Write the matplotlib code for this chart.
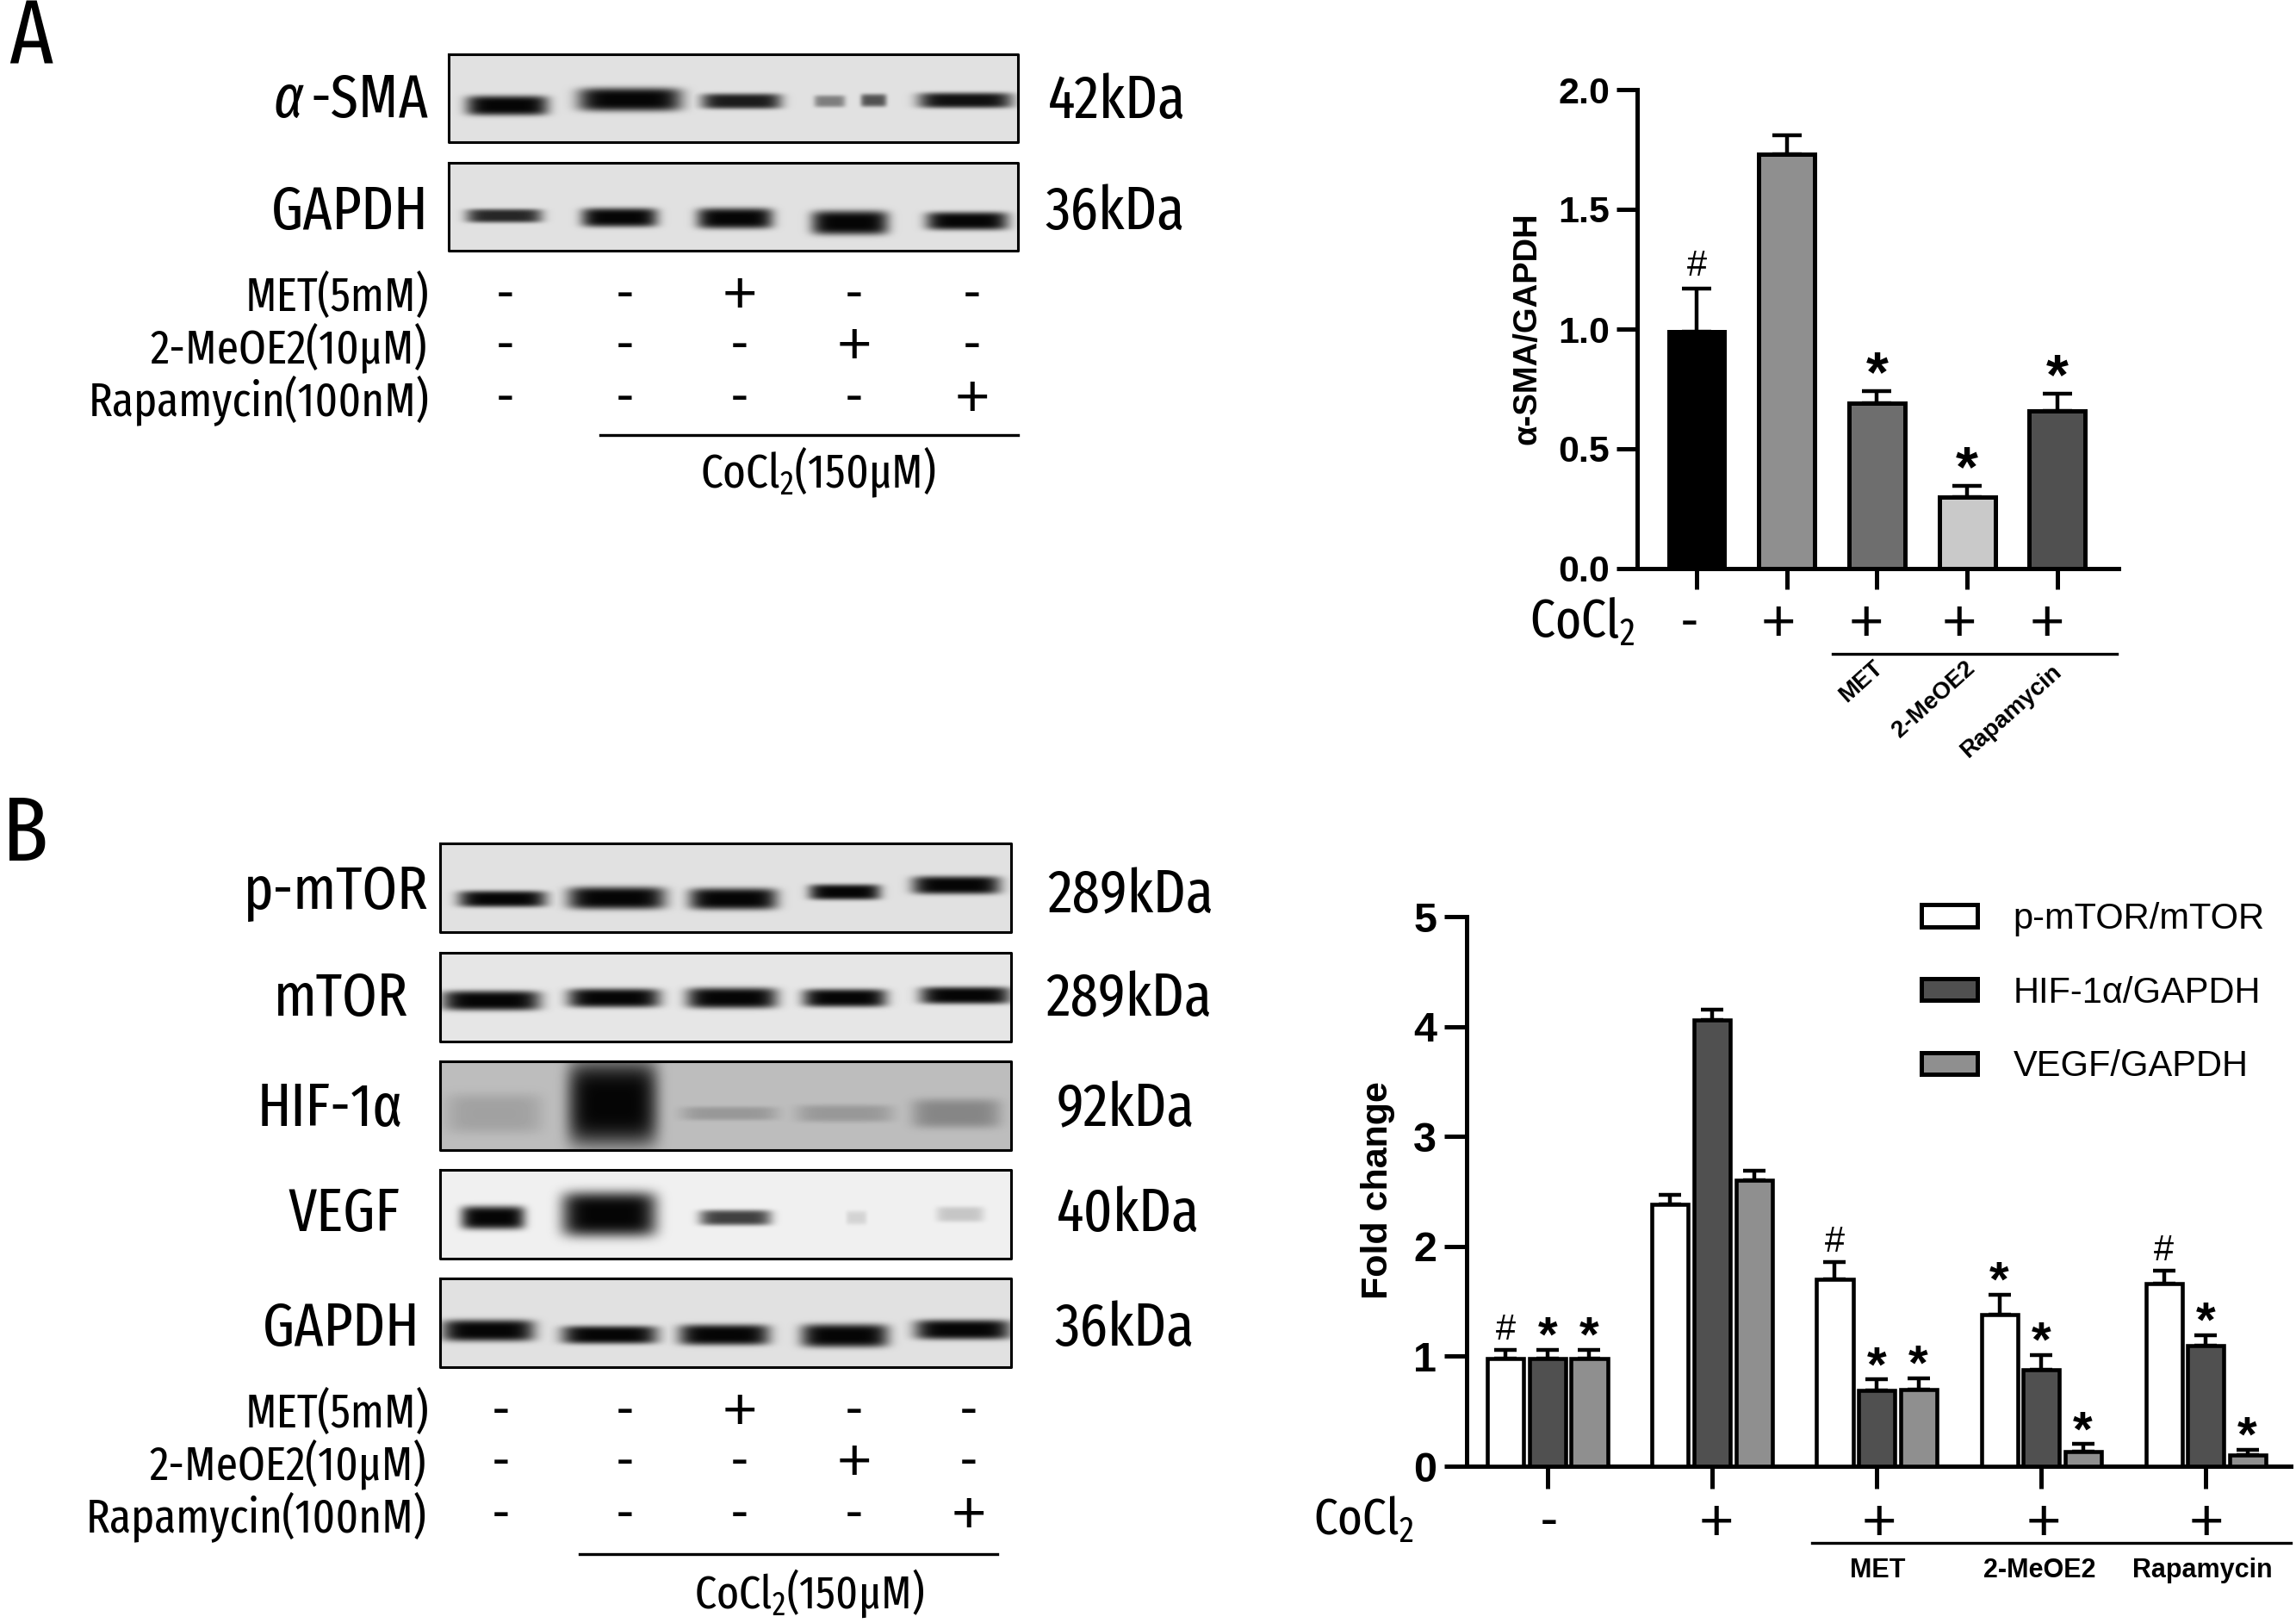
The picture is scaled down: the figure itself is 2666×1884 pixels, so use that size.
import matplotlib
matplotlib.use('Agg')
import matplotlib.pyplot as plt
from matplotlib.patches import Patch
import numpy as np

W, H = 2666, 1884
NARROW = ['Fira Sans Extra Condensed', 'Liberation Sans', 'DejaVu Sans']
ARIAL = ['Liberation Sans', 'DejaVu Sans']
plt.rcParams['mathtext.default'] = 'regular'

# bar chart A
a_values = [0.99, 1.73, 0.69, 0.30, 0.66]
a_err = [0.18, 0.08, 0.05, 0.045, 0.07]
a_marks = ['#', '', '*', '*', '*']
a_colors = ['#000000', '#8f8f8f', '#6e6e6e', '#c9c9c9', '#505050']
a_signs = ['-', '+', '+', '+', '+']
a_sublabels = ['MET', '2-MeOE2', 'Rapamycin']

# bar chart B
b_series = ['p-mTOR/mTOR', 'HIF-1α/GAPDH', 'VEGF/GAPDH']
b_values = [[0.98, 2.38, 1.70, 1.38, 1.66],
            [0.98, 4.06, 0.69, 0.88, 1.10],
            [0.98, 2.60, 0.70, 0.13, 0.10]]
b_err = [[0.08, 0.09, 0.16, 0.18, 0.12],
         [0.08, 0.09, 0.10, 0.13, 0.09],
         [0.08, 0.09, 0.10, 0.07, 0.05]]
b_marks = [['#', '', '#', '*', '#'],
           ['*', '', '*', '*', '*'],
           ['*', '', '*', '*', '*']]
b_colors = ['#ffffff', '#505050', '#8f8f8f']
b_signs = ['-', '+', '+', '+', '+']
b_sublabels = ['MET', '2-MeOE2', 'Rapamycin']

# treatment table under the blots
treat_names = ['MET(5mM)', '2-MeOE2(10μM)', 'Rapamycin(100nM)']
treat_table = [['-', '-', '+', '-', '-'],
               ['-', '-', '-', '+', '-'],
               ['-', '-', '-', '-', '+']]

# blots: x0, x1, y centre, height, darkness of each band (picture pixels)
blot_sma = [(541, 636, 122, 17, 1), (671, 791, 115, 21, 1), (814, 907, 117, 12, .9),
            (945, 981, 117, 8, .45), (999, 1029, 116, 9, .65), (1066, 1175, 116, 12, .95)]
blot_gapdh_a = [(541, 629, 250, 10, .85), (675, 763, 252, 16, 1), (809, 897, 253, 18, 1),
                (942, 1031, 258, 22, 1), (1075, 1170, 256, 15, 1)]
blot_pmtor = [(532, 634, 1043, 13, 1), (659, 772, 1042, 20, 1), (800, 902, 1043, 19, 1),
              (939, 1022, 1035, 12, 1), (1059, 1161, 1027, 15, 1)]
blot_mtor = [(513, 627, 1161, 17, 1), (659, 766, 1158, 16, 1), (797, 902, 1158, 18, 1),
             (932, 1029, 1158, 15, 1), (1068, 1173, 1155, 14, 1)]
blot_hif = [(518, 629, 1292, 40, .15), (659, 763, 1280, 92, 1), (791, 902, 1292, 10, .2),
            (925, 1036, 1292, 14, .2), (1059, 1161, 1292, 28, .3)]
blot_vegf = [(535, 609, 1413, 21, 1), (652, 762, 1409, 46, 1), (812, 895, 1413, 12, .75),
             (982, 1006, 1413, 10, .12), (1087, 1142, 1409, 12, .18)]
blot_gapdh_b = [(513, 620, 1544, 19, 1), (652, 763, 1549, 15, 1), (788, 893, 1549, 18, 1),
                (930, 1031, 1550, 21, 1), (1062, 1173, 1543, 17, 1)]

fig = plt.figure(figsize=(W / 100, H / 100), dpi=100, facecolor='white')
bg = fig.add_axes([0, 0, 1, 1])
bg.set_xlim(0, W)
bg.set_ylim(H, 0)
bg.axis('off')


def txt(x, y, s, size=40, ha='left', family=NARROW, **kw):
    bg.text(x, y + 4, s, fontsize=size, ha=ha, va='center', family=family, color='black', **kw)


def sign(x, y, s):
    if s == '+':
        txt(x, y, s, size=50, ha='center', family=ARIAL)
    else:
        txt(x, y, s, size=46, ha='center')


def blot(x0, x1, y0, y1, bands, grey):
    ys, xs = np.mgrid[y0:y1, x0:x1]
    dark = np.zeros(xs.shape)
    for bx0, bx1, cy, h, d in bands:
        cx = (bx0 + bx1) / 2
        w = (bx1 - bx0) / 2
        blob = d * np.exp(-np.abs((xs - cx) / w) ** 6) * np.exp(-np.abs((ys - cy) / (h / 2 + 3)) ** 4)
        dark = np.maximum(dark, blob)
    bg.imshow(grey * (1 - dark) + 0.02, extent=(x0, x1, y1, y0), cmap='gray', vmin=0, vmax=1,
              aspect='auto', interpolation='bilinear')
    bg.plot([x0, x1, x1, x0, x0], [y0, y0, y1, y1, y0], color='black', lw=2.2)


def treatments(rows_y, xs, right):
    for row, (name, y) in enumerate(zip(treat_names, rows_y)):
        txt(right[row], y, name, ha='right')
        for col, x in enumerate(xs):
            sign(x, y, treat_table[row][col])


# panel A blots
txt(10, 42, 'A', size=76)
blot(521, 1182, 63, 165, blot_sma, .86)
blot(521, 1182, 189, 291, blot_gapdh_a, .86)
txt(353, 113, 'α', size=51, ha='right', style='italic')
txt(498, 113, '-SMA', size=51, ha='right')
txt(498, 243, 'GAPDH', size=51, ha='right')
txt(1217, 114, '42kDa', size=51)
txt(1213, 243, '36kDa', size=51)
treatments([341, 400, 461], [587, 726, 859, 992, 1129], [498, 496, 498])
bg.plot([697, 1182], [505, 505], color='black', lw=2.4)
txt(950, 544, 'CoCl$_2$(150μM)', ha='center')

# panel B blots
txt(3, 966, 'B', size=76)
for y0, bands, grey in [(979, blot_pmtor, .86), (1106, blot_mtor, .88), (1232, blot_hif, .72),
                        (1358, blot_vegf, .92), (1484, blot_gapdh_b, .86)]:
    blot(511, 1174, y0, y0 + 103, bands, grey)
for x, y, s in [(498, 1032, 'p-mTOR'), (474, 1156, 'mTOR'), (468, 1284, 'HIF-1α'),
                (464, 1406, 'VEGF'), (488, 1539, 'GAPDH')]:
    txt(x, y, s, size=51, ha='right')
for x, y, s in [(1216, 1036, '289kDa'), (1214, 1156, '289kDa'), (1227, 1284, '92kDa'),
                (1227, 1406, '40kDa'), (1224, 1539, '36kDa')]:
    txt(x, y, s, size=51)
treatments([1637, 1696, 1757], [582, 726, 859, 992, 1125], [498, 495, 495])
bg.plot([673, 1158], [1804, 1804], color='black', lw=2.4)
txt(940, 1846, 'CoCl$_2$(150μM)', ha='center', size=39)


def px_axes(x0, x1, y_top, y_bot):
    ax = fig.add_axes([x0 / W, 1 - y_bot / H, (x1 - x0) / W, (y_bot - y_top) / H])
    ax.patch.set_alpha(0)
    for side in ['top', 'right']:
        ax.spines[side].set_visible(False)
    for side in ['left', 'bottom']:
        ax.spines[side].set_linewidth(3.6)
    return ax


# chart A
ax = px_axes(1901, 2460, 104, 660)
x = np.arange(5)
ax.bar(x, a_values, width=0.62, color=a_colors, edgecolor='black', linewidth=3.6, zorder=3)
ax.errorbar(x, a_values, yerr=[np.zeros(5), a_err], fmt='none', ecolor='black', elinewidth=3.2,
            capsize=12, capthick=3.2, zorder=2)
for i in x:
    if a_marks[i]:
        dy = 4 if a_marks[i] == '#' else -10
        size = 30 if a_marks[i] == '#' else 48
        ax.annotate(a_marks[i], (i, a_values[i] + a_err[i]), xytext=(0, dy), textcoords='offset points',
                    ha='center', va='bottom', fontsize=size, family=ARIAL,
                    fontweight='normal' if a_marks[i] == '#' else 'bold')
ax.set_xlim(-0.659, 4.68)
ax.set_ylim(0, 2)
ax.set_xticks(x)
ax.set_xticklabels([])
ax.set_yticks([0, 0.5, 1.0, 1.5, 2.0])
ax.set_yticklabels(['0.0', '0.5', '1.0', '1.5', '2.0'], fontsize=31, fontweight='bold', family=ARIAL)
ax.tick_params(width=3.6, length=17, pad=6)
bg.text(1774, 381, 'α-SMA/GAPDH', rotation=90, fontsize=27.5, fontweight='bold', family=ARIAL,
        ha='center', va='center')
txt(1776, 720, 'CoCl$_2$', size=45)
for px, s in zip([1962, 2065, 2167, 2275, 2377], a_signs):
    sign(px, 722, s)
bg.plot([2128, 2458], [759, 759], color='black', lw=2.4)
for px, py, s in zip([2161, 2245, 2335], [791, 812, 826], a_sublabels):
    bg.text(px, py, s, rotation=42, fontsize=20, fontweight='bold', family=ARIAL, ha='center', va='center')

# chart B
ax2 = px_axes(1703, 2660, 1064, 1702)
handles = []
for k in range(3):
    pos = x + (k - 1) * 0.254
    ax2.bar(pos, b_values[k], width=0.22, color=b_colors[k], edgecolor='black', linewidth=3.3, zorder=3)
    ax2.errorbar(pos, b_values[k], yerr=[np.zeros(5), b_err[k]], fmt='none', ecolor='black',
                 elinewidth=3.2, capsize=9.4, capthick=3.2, zorder=2)
    handles.append(Patch(facecolor=b_colors[k], edgecolor='black', linewidth=3.6, label=b_series[k]))
    for i in x:
        m = b_marks[k][i]
        if m:
            ax2.annotate(m, (pos[i], b_values[k][i] + b_err[k][i]), xytext=(0, 2 if m == '#' else -10),
                         textcoords='offset points', ha='center', va='bottom',
                         fontsize=30 if m == '#' else 42, family=ARIAL,
                         fontweight='normal' if m == '#' else 'bold')
ax2.set_xlim(-0.492, 4.518)
ax2.set_ylim(0, 5)
ax2.set_xticks(x)
ax2.set_xticklabels([])
ax2.set_yticks(range(6))
ax2.set_yticklabels([str(v) for v in range(6)], fontsize=35, fontweight='bold', family=ARIAL)
ax2.tick_params(width=3.6, length=19, pad=6)
ax2.legend(handles=handles, loc='upper left', bbox_to_anchor=(0.552, 1.027), frameon=False, ncol=1,
           prop={'family': ARIAL, 'size': 30}, handlelength=1.55, handleheight=0.55,
           handletextpad=1.0, labelspacing=1.1, borderpad=0, borderaxespad=0)
bg.text(1600, 1382, 'Fold change', rotation=90, fontsize=31, fontweight='bold', family=ARIAL,
        ha='center', va='center')
txt(1525, 1761, 'CoCl$_2$', size=43)
for px, s in zip([1799, 1993, 2182, 2373, 2562], b_signs):
    sign(px, 1766, s)
bg.plot([2104, 2660], [1791, 1791], color='black', lw=2.4)
for px, s in zip([2180, 2368, 2557], b_sublabels):
    bg.text(px, 1823, s, fontsize=22, fontweight='bold', family=ARIAL, ha='center', va='center')

fig.savefig('out.png', dpi=100)
